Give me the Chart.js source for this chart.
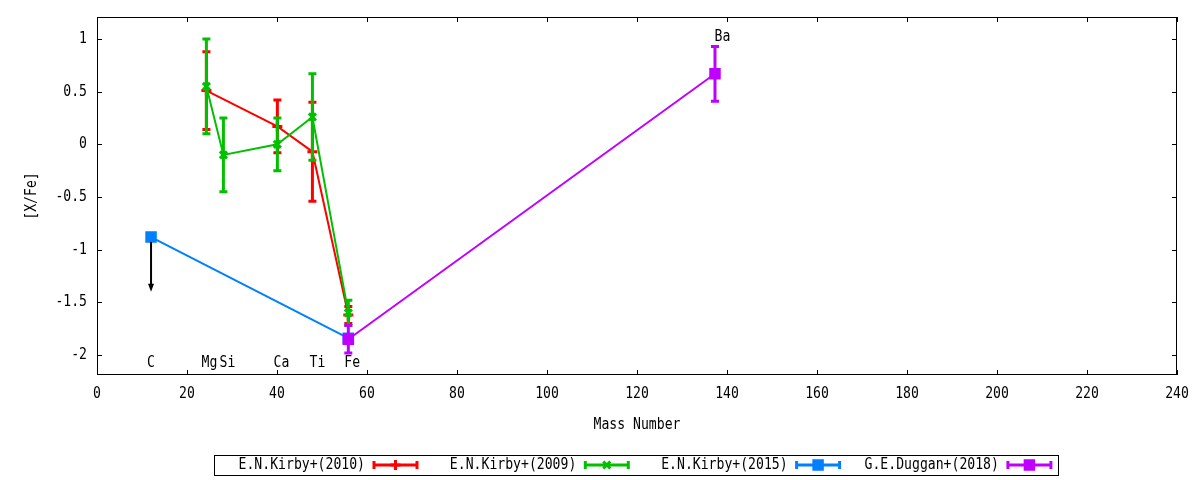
<!DOCTYPE html>
<html>
<head>
<meta charset="utf-8">
<script src="https://cdn.jsdelivr.net/npm/chart.js@4.4.1/dist/chart.umd.min.js"></script>
<style>
  html, body { margin: 0; padding: 0; background: #fff; }
  #wrap { width: 1200px; height: 480px; }
</style>
</head>
<body>
<div id="wrap"><canvas id="abundance"></canvas></div>
<script>
// element labels and where they sit on the mass axis
const elements = ['C', 'Mg', 'Si', 'Ca', 'Ti', 'Fe', 'Ba'];
const labelAt = [12, 25, 29, 41, 49, 56.7, 139];

// E.N.Kirby+(2010)
const kirby2010Mass = [24.31, 40.08, 47.87, 55.85];
const kirby2010Val = [0.51, 0.17, -0.07, -1.62];
const kirby2010Err = [0.37, 0.25, 0.47, 0.08];

// E.N.Kirby+(2009)
const kirby2009Mass = [24.31, 28.09, 40.08, 47.87, 55.85];
const kirby2009Val = [0.55, -0.10, 0.00, 0.26, -1.60];
const kirby2009Err = [0.45, 0.35, 0.25, 0.41, 0.12];

// E.N.Kirby+(2015), C is an upper limit
const kirby2015Mass = [12.01, 55.85];
const kirby2015Val = [-0.88, -1.84];
const kirby2015Err = [0, 0];
const upperLimitTo = -1.4;

// G.E.Duggan+(2018)
const duggan2018Mass = [55.85, 137.33];
const duggan2018Val = [-1.85, 0.67];
const duggan2018Err = [0.13, 0.26];

const xTicks = [0, 20, 40, 60, 80, 100, 120, 140, 160, 180, 200, 220, 240];
const yTicks = [-2, -1.5, -1, -0.5, 0, 0.5, 1];

const FONT = '15px "DejaVu Sans Mono"';

function pts(xs, ys) {
    return xs.map((x, i) => ({ x: x, y: ys[i] }));
}

function txt(ctx, s, x, y, align, rot) {
    ctx.save();
    ctx.translate(x, y);
    if (rot) ctx.rotate(rot);
    ctx.scale(0.875, 1);
    ctx.font = FONT;
    ctx.fillStyle = '#000';
    ctx.textAlign = align;
    ctx.textBaseline = 'middle';
    ctx.fillText(s, 0, 0);
    ctx.restore();
}

const series = [
    { label: 'E.N.Kirby+(2010)', mass: kirby2010Mass, val: kirby2010Val, err: kirby2010Err, color: '#ff0000', style: 'cross', r: 5, order: 4 },
    { label: 'E.N.Kirby+(2009)', mass: kirby2009Mass, val: kirby2009Val, err: kirby2009Err, color: '#00c000', style: 'crossRot', r: 5, order: 3 },
    { label: 'E.N.Kirby+(2015)', mass: kirby2015Mass, val: kirby2015Val, err: kirby2015Err, color: '#0080ff', style: 'rect', r: 6, order: 2 },
    { label: 'G.E.Duggan+(2018)', mass: duggan2018Mass, val: duggan2018Val, err: duggan2018Err, color: '#c000ff', style: 'rect', r: 6, order: 1 }
];

function drawErrBar(ctx, x, yTop, yBot, color) {
    ctx.save();
    ctx.strokeStyle = color;
    ctx.lineWidth = 3;
    ctx.beginPath();
    ctx.moveTo(x, yTop); ctx.lineTo(x, yBot);
    ctx.moveTo(x - 4, yTop); ctx.lineTo(x + 4, yTop);
    ctx.moveTo(x - 4, yBot); ctx.lineTo(x + 4, yBot);
    ctx.stroke();
    ctx.restore();
}

const errorBars = {
    id: 'errorBars',
    beforeDatasetDraw(chart, args) {
        const s = series[args.index];
        const y = chart.scales.y;
        args.meta.data.forEach((p, i) => {
            if (!s.err[i]) return;
            drawErrBar(chart.ctx, p.x, y.getPixelForValue(s.val[i] + s.err[i]), y.getPixelForValue(s.val[i] - s.err[i]), s.color);
        });
    }
};

const decorations = {
    id: 'decorations',
    beforeDatasetsDraw(chart) {
        const ctx = chart.ctx;
        const a = chart.chartArea;
        const x = chart.scales.x, y = chart.scales.y;

        // frame
        ctx.save();
        ctx.strokeStyle = '#000';
        ctx.lineWidth = 1;
        ctx.strokeRect(Math.round(a.left) + 0.5, Math.round(a.top) + 0.5, Math.round(a.right - a.left) - 1, Math.round(a.bottom - a.top) - 1);

        // inward ticks
        ctx.beginPath();
        xTicks.forEach(v => {
            const px = Math.round(x.getPixelForValue(v)) + 0.5;
            ctx.moveTo(px, a.bottom); ctx.lineTo(px, a.bottom - 5);
            ctx.moveTo(px, a.top); ctx.lineTo(px, a.top + 5);
        });
        yTicks.forEach(v => {
            const py = Math.round(y.getPixelForValue(v)) + 0.5;
            ctx.moveTo(a.left, py); ctx.lineTo(a.left + 5, py);
            ctx.moveTo(a.right, py); ctx.lineTo(a.right - 5, py);
        });
        ctx.stroke();
        ctx.restore();

        // tick labels
        xTicks.forEach(v => txt(ctx, String(v), x.getPixelForValue(v), a.bottom + 19, 'center'));
        yTicks.forEach(v => txt(ctx, String(v), a.left - 10, y.getPixelForValue(v), 'right'));

        // axis titles
        txt(ctx, 'Mass Number', (a.left + a.right) / 2, 425, 'center');
        txt(ctx, '[X/Fe]', 32, (a.top + a.bottom) / 2, 'center', -Math.PI / 2);

        // element labels
        elements.forEach((el, i) => {
            const ly = el === 'Ba' ? 1.02 : -2.076;
            txt(ctx, el, x.getPixelForValue(labelAt[i]), y.getPixelForValue(ly), 'center');
        });
    },
    afterDatasetsDraw(chart) {
        const ctx = chart.ctx;
        const x = chart.scales.x, y = chart.scales.y;

        // upper limit arrow on C
        const ax = x.getPixelForValue(kirby2015Mass[0]);
        const ay0 = y.getPixelForValue(kirby2015Val[0]);
        const ay1 = y.getPixelForValue(upperLimitTo);
        ctx.save();
        ctx.strokeStyle = '#000';
        ctx.fillStyle = '#000';
        ctx.lineWidth = 2;
        ctx.beginPath();
        ctx.moveTo(ax, ay0 + 5); ctx.lineTo(ax, ay1 - 6);
        ctx.stroke();
        ctx.beginPath();
        ctx.moveTo(ax - 3, ay1 - 8); ctx.lineTo(ax + 3, ay1 - 8); ctx.lineTo(ax, ay1);
        ctx.closePath();
        ctx.fill();
        ctx.restore();

        // legend
        ctx.save();
        ctx.strokeStyle = '#000';
        ctx.lineWidth = 1;
        ctx.strokeRect(214.5, 455.5, 844, 20);
        ctx.restore();
        const ly = 465;
        series.forEach((s, i) => {
            const tEnd = 365 + i * 211.3;
            txt(ctx, s.label, tEnd, ly, 'right');
            const sx = tEnd + 9, ex = sx + 43;
            ctx.save();
            ctx.strokeStyle = s.color;
            ctx.lineWidth = 3;
            ctx.beginPath();
            ctx.moveTo(sx, ly); ctx.lineTo(ex, ly);
            ctx.moveTo(sx, ly - 4); ctx.lineTo(sx, ly + 4);
            ctx.moveTo(ex, ly - 4); ctx.lineTo(ex, ly + 4);
            ctx.stroke();
            ctx.restore();
            ctx.save();
            ctx.strokeStyle = s.color;
            ctx.fillStyle = s.color;
            ctx.lineWidth = 3;
            Chart.helpers.drawPoint(ctx, { pointStyle: s.style, radius: s.r, borderWidth: 2 }, (sx + ex) / 2, ly);
            ctx.restore();
        });
    }
};

const ctx = document.getElementById('abundance');

new Chart(ctx, {
    type: 'scatter',
    data: {
        datasets: series.map(s => ({
            label: s.label,
            data: pts(s.mass, s.val),
            showLine: true,
            borderColor: s.color,
            backgroundColor: s.color,
            borderWidth: 2,
            pointStyle: s.style,
            pointRadius: s.r,
            pointBorderWidth: 3,
            order: s.order
        }))
    },
    options: {
        responsive: true,
        maintainAspectRatio: false,
        animation: false,
        layout: { padding: { left: 97, top: 17, right: 23, bottom: 105 } },
        scales: {
            x: { type: 'linear', min: 0, max: 240, display: false },
            y: { type: 'linear', min: -2.19, max: 1.209, display: false }
        },
        plugins: {
            legend: { display: false },
            tooltip: { enabled: false }
        }
    },
    plugins: [errorBars, decorations]
});
</script>
</body>
</html>
